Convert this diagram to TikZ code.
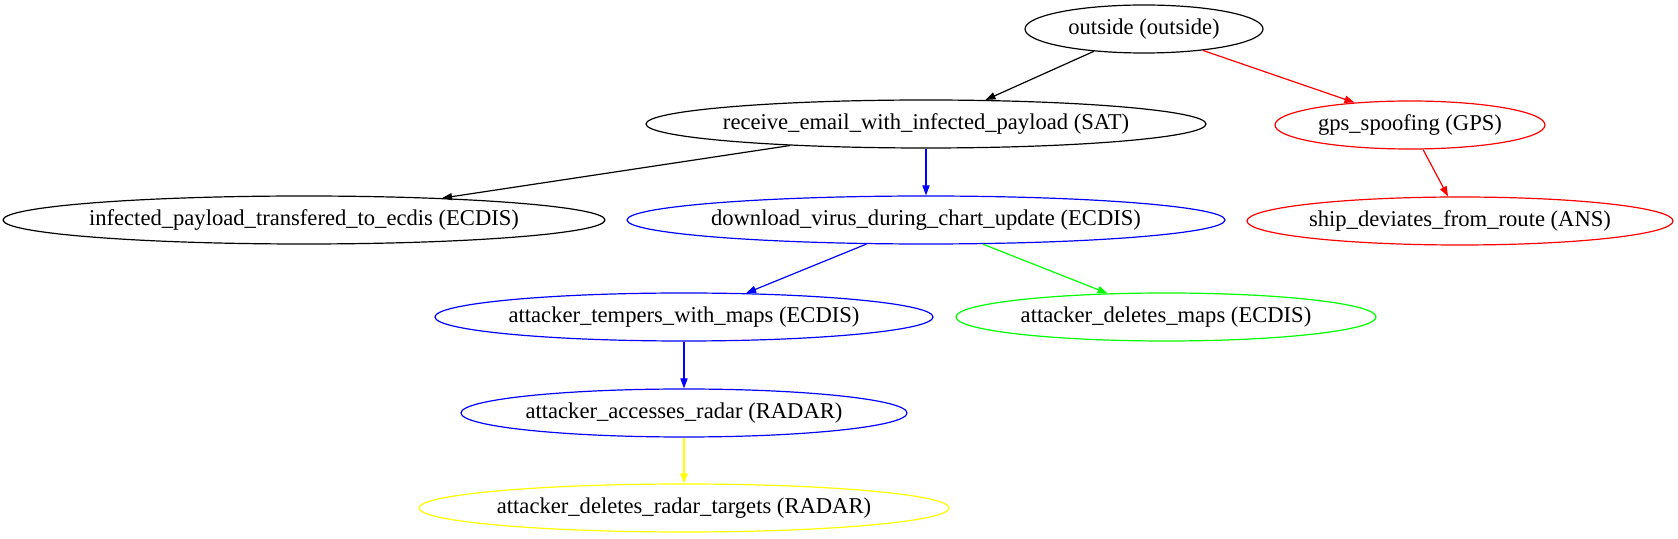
\documentclass[tikz,border=0pt]{standalone}
\usepackage{fontspec}
\setmainfont{Liberation Serif}
\usetikzlibrary{shapes.geometric,arrows.meta}
\definecolor{gvblue}{RGB}{0,0,255}
\definecolor{gvgreen}{RGB}{0,255,0}
\definecolor{gvyellow}{RGB}{255,255,0}
\definecolor{gvred}{RGB}{255,0,0}
\begin{document}
\begin{tikzpicture}[x=0.5pt,y=-0.5pt,
  gv/.style={ellipse,draw,line width=0.6pt,inner xsep=-60pt,inner ysep=0pt,minimum height=24pt,font=\fontsize{11.3pt}{13pt}\selectfont},
  edge/.style={line width=0.6pt,-{Triangle[length=5pt,width=3.6pt]}}]
\useasboundingbox (0,0) rectangle (1678,539);
\node[gv,minimum width=119pt] (out) at (1144,29) {outside (outside)};
\node[gv,minimum width=280pt] (recv) at (926,124) {receive\_email\_with\_infected\_payload (SAT)};
\node[gv,gvred,text=black,minimum width=135pt] (gps) at (1410,125) {gps\_spoofing (GPS)};
\node[gv,minimum width=301pt] (inf) at (304,220) {infected\_payload\_transfered\_to\_ecdis (ECDIS)};
\node[gv,gvblue,text=black,minimum width=299pt] (down) at (926,220) {download\_virus\_during\_chart\_update (ECDIS)};
\node[gv,gvred,text=black,minimum width=213pt] (ship) at (1460,221) {ship\_deviates\_from\_route (ANS)};
\node[gv,gvblue,text=black,minimum width=249pt] (temp) at (684,317) {attacker\_tempers\_with\_maps (ECDIS)};
\node[gv,gvgreen,text=black,minimum width=210pt] (delm) at (1166,317) {attacker\_deletes\_maps (ECDIS)};
\node[gv,gvblue,text=black,minimum width=223pt] (acc) at (684,413) {attacker\_accesses\_radar (RADAR)};
\node[gv,gvyellow,text=black,minimum width=265pt] (delr) at (684,508) {attacker\_deletes\_radar\_targets (RADAR)};
\draw[edge] (out.204.2) -- (recv.22.2);
\draw[edge,gvred] (out.340.7) -- (gps.158.7);
\draw[edge] (recv.189.8) -- (inf.9.7);
\draw[edge,gvblue] (recv.south) -- (down.north);
\draw[edge,gvred] (gps.298.4) -- (ship.116.6);
\draw[edge,gvblue] (down.202.1) -- (temp.21.6);
\draw[edge,gvgreen] (down.337.9) -- (delm.158.4);
\draw[edge,gvblue] (temp.south) -- (acc.north);
\draw[edge,gvyellow] (acc.south) -- (delr.north);
\end{tikzpicture}
\end{document}
